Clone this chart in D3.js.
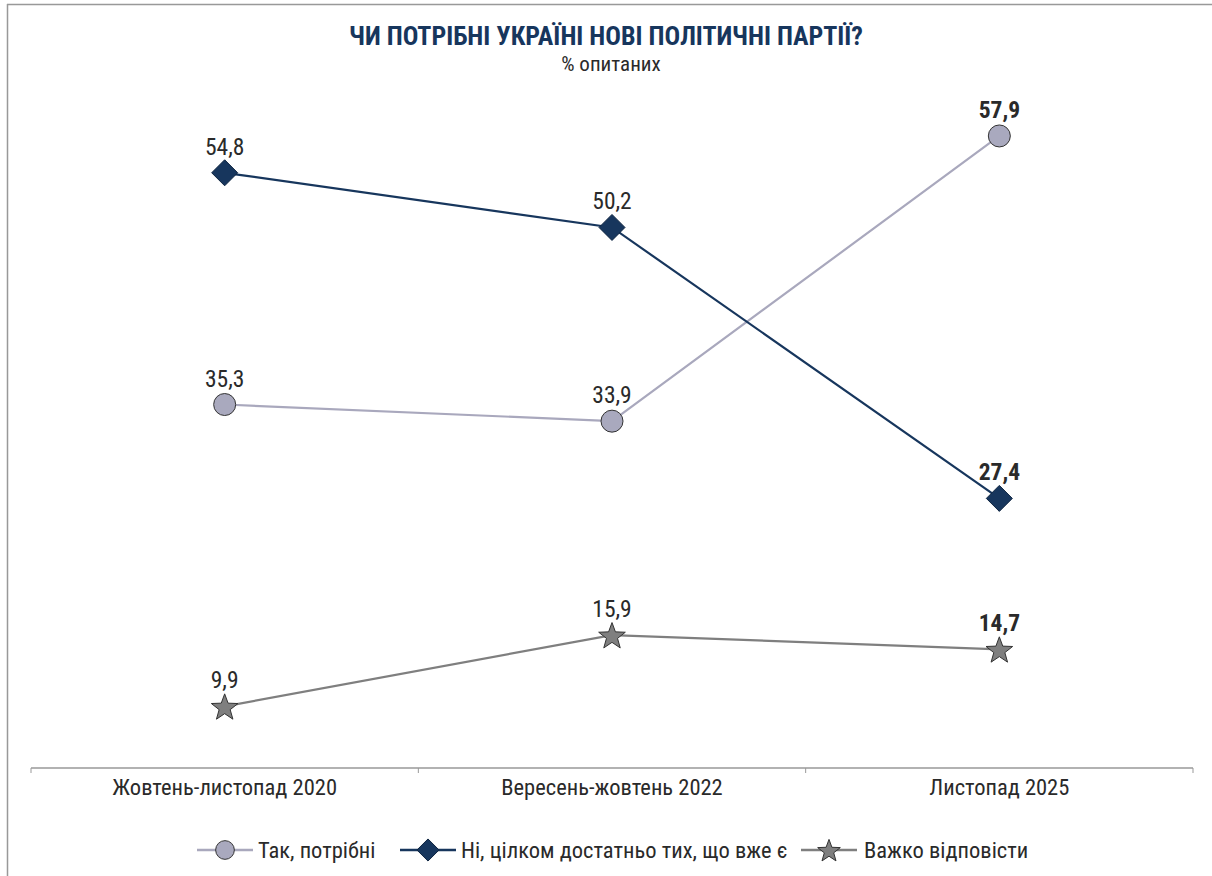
<!DOCTYPE html>
<html><head><meta charset="utf-8">
<script src="https://cdn.jsdelivr.net/npm/d3@7"></script>
<style>
html,body{margin:0;padding:0;background:#fff;}
svg{display:block;}
text{font-family:"Liberation Sans Narrow","Roboto Condensed","Liberation Sans",sans-serif;}
</style></head>
<body>
<svg id="chart" width="1212" height="876"></svg>
<script>
const categories = ["Жовтень-листопад 2020", "Вересень-жовтень 2022", "Листопад 2025"];
const seriesNames = ["Так, потрібні", "Ні, цілком достатньо тих, що вже є", "Важко відповісти"];
const yesValues = [35.3, 33.9, 57.9];
const noValues = [54.8, 50.2, 27.4];
const hardValues = [9.9, 15.9, 14.7];
const title = "ЧИ ПОТРІБНІ УКРАЇНІ НОВІ ПОЛІТИЧНІ ПАРТІЇ?";
const subtitle = "% опитаних";

const series = [
  {name: seriesNames[0], values: yesValues, line: "#a9a8bd", fill: "#a9a9be", shape: "circle"},
  {name: seriesNames[1], values: noValues, line: "#17365d", fill: "#17365d", shape: "diamond"},
  {name: seriesNames[2], values: hardValues, line: "#7f7f7f", fill: "#7f7f7f", shape: "star"}
];

const svg = d3.select("#chart");
const fmt = v => String(v).replace(".", ",");
const txt = "#2a2a2a";

// frame
svg.append("line").attr("x1",7).attr("x2",1212).attr("y1",4.5).attr("y2",4.5).attr("stroke","#999").attr("stroke-width",1.5);
svg.append("line").attr("x1",7.5).attr("x2",7.5).attr("y1",4).attr("y2",876).attr("stroke","#999").attr("stroke-width",1.5);

// title
svg.append("text").attr("x",606).attr("y",45).attr("text-anchor","middle")
  .attr("font-size",26).attr("font-weight","bold").attr("fill","#17365d").text(title);
svg.append("text").attr("x",611).attr("y",71).attr("text-anchor","middle")
  .attr("font-size",21).attr("fill",txt).text(subtitle);

const x = d3.scalePoint().domain(categories).range([31, 1193]).padding(0.5);
const y = d3.scaleLinear().domain([0, 60]).range([824, 111]);

// axis
const axisG = svg.append("g").attr("transform","translate(0,768)");
axisG.append("line").attr("x1",31).attr("x2",1193).attr("stroke","#999").attr("stroke-width",1.5);
const step = x.step();
const tickPos = d3.range(categories.length + 1).map(i => 31 + i * step);
axisG.selectAll(".tk").data(tickPos).join("line").attr("class","tk")
  .attr("x1",d=>d).attr("x2",d=>d).attr("y1",0).attr("y2",5).attr("stroke","#999").attr("stroke-width",1);
axisG.selectAll(".cl").data(categories).join("text").attr("class","cl")
  .attr("x",d=>x(d)).attr("y",27).attr("text-anchor","middle").attr("font-size",22.5).attr("fill",txt).text(d=>d);

function marker(g, shape, s, fill) {
  if (shape === "circle") {
    g.append("circle").attr("r",11*s).attr("fill",fill).attr("stroke","#333").attr("stroke-width",1);
  } else if (shape === "diamond") {
    const r = 13*s;
    g.append("path").attr("d",`M0,${-r}L${r},0L0,${r}L${-r},0Z`).attr("fill",fill).attr("stroke","#0e2440").attr("stroke-width",1);
  } else {
    const R = 14*s, r = 5.8*s;
    const pts = d3.range(10).map(i => {
      const a = -Math.PI/2 + i*Math.PI/5;
      const rr = i%2 ? r : R;
      return [rr*Math.cos(a), rr*Math.sin(a)+1.5*s];
    });
    g.append("path").attr("d","M"+pts.map(p=>p.join(",")).join("L")+"Z").attr("fill",fill).attr("stroke","#333").attr("stroke-width",1);
  }
}

const line = d3.line().x((d,i)=>x(categories[i])).y(d=>y(d));
series.forEach(s => {
  svg.append("path").attr("d", line(s.values)).attr("fill","none").attr("stroke",s.line).attr("stroke-width",2.2);
});
series.forEach(s => {
  s.values.forEach((v,i) => {
    const g = svg.append("g").attr("transform",`translate(${x(categories[i])},${y(v)})`);
    marker(g, s.shape, 1, s.fill);
    g.append("text").attr("x",0).attr("y",-18).attr("text-anchor","middle")
      .attr("font-size",23.5).attr("fill",txt)
      .attr("font-weight", i === s.values.length-1 ? "bold" : "normal")
      .text(fmt(v));
  });
});

// legend
const legendItems = [
  {s: series[0], cx: 225, tx: 258},
  {s: series[1], cx: 428, tx: 461},
  {s: series[2], cx: 829, tx: 864}
];
legendItems.forEach(li => {
  const g = svg.append("g").attr("transform",`translate(${li.cx},850)`);
  g.append("line").attr("x1",-28).attr("x2",28).attr("stroke",li.s.line).attr("stroke-width",2.5);
  marker(g, li.s.shape, 0.85, li.s.fill);
  svg.append("text").attr("x",li.tx).attr("y",858).attr("font-size",22.5).attr("fill",txt).text(li.s.name);
});
</script>
</body></html>
